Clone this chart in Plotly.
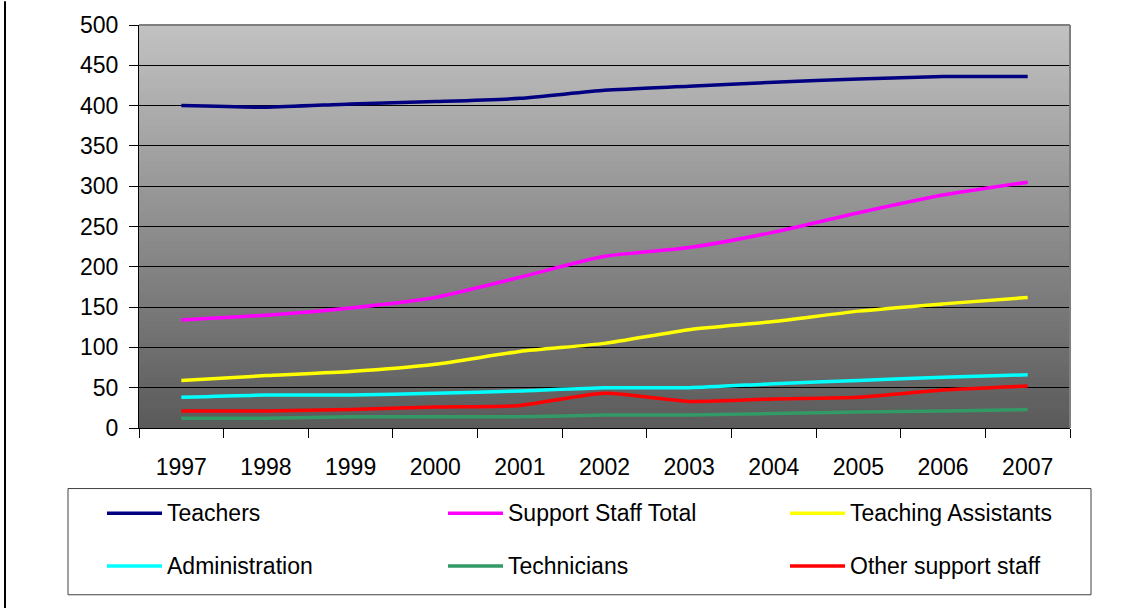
import plotly.graph_objects as go

years = ["1997", "1998", "1999", "2000", "2001", "2002", "2003", "2004", "2005", "2006", "2007"]
teachers = [400, 398, 402, 405, 409, 419, 424, 429, 433, 436, 436]
support_total = [134, 140, 149, 162, 187, 213, 224, 243, 267, 289, 305]
teaching_assistants = [59, 65, 70, 79, 95, 105, 122, 132, 145, 154, 162]
administration = [38, 41, 41, 43, 46, 50, 50, 55, 59, 63, 66]
technicians = [12, 12, 14, 14, 14, 16, 16, 18, 20, 21, 23]
other_support = [21, 21, 23, 26, 28, 43, 33, 36, 38, 47, 52]

series_names = ["Teachers", "Support Staff Total", "Teaching Assistants",
                "Administration", "Technicians", "Other support staff"]
series_values = [teachers, support_total, teaching_assistants,
                 administration, technicians, other_support]
series_colors = ["#000080", "#FF00FF", "#FFFF00", "#00FFFF", "#339966", "#FF0000"]

FONT = "Liberation Sans, Arial, sans-serif"
W, H = 1137, 608
L, R, T, B = 139, 1070, 22, 428


def px(xp):
    return (xp - L) / (R - L)


def py(yp):
    return (B - yp) / (B - T)


fig = go.Figure()
for name, vals, col in zip(series_names, series_values, series_colors):
    fig.add_trace(go.Scatter(x=years, y=vals, mode="lines", name=name,
                             line=dict(color=col, width=3.5, shape="spline", smoothing=0.6),
                             showlegend=False, hoverinfo="x+y+name"))

shapes = []
# gradient background
n = 80
top_c, bot_c = 194, 90
for i in range(n):
    f0, f1 = i / n, (i + 1) / n
    c = round(bot_c + (top_c - bot_c) * (f0 + f1) / 2)
    shapes.append(dict(type="rect", xref="x domain", yref="y domain", x0=0, x1=1,
                       y0=f0, y1=f1 + 0.002, line=dict(width=0),
                       fillcolor=f"rgb({c},{c},{c})", layer="below"))
# plot border top and right
shapes.append(dict(type="line", xref="paper", yref="paper", x0=0, x1=1, y0=1, y1=1,
                   line=dict(color="#7f7f7f", width=2), layer="above"))
shapes.append(dict(type="line", xref="paper", yref="paper", x0=1, x1=1, y0=0, y1=1,
                   line=dict(color="#7f7f7f", width=2), layer="above"))
# outer chart border at left
shapes.append(dict(type="line", xref="paper", yref="paper", x0=px(5), x1=px(5),
                   y0=py(-2), y1=py(610), line=dict(color="black", width=2)))
# legend box
shapes.append(dict(type="rect", xref="paper", yref="paper", x0=px(68), x1=px(1091),
                   y0=py(596), y1=py(489), line=dict(color="#404040", width=1),
                   fillcolor="white"))

annotations = []
col_x = [107, 448, 790]
row_y = [514, 567]
for i, (name, col) in enumerate(zip(series_names, series_colors)):
    cx = col_x[i % 3]
    ry = row_y[i // 3]
    shapes.append(dict(type="line", xref="paper", yref="paper", x0=px(cx), x1=px(cx + 55),
                       y0=py(ry), y1=py(ry), line=dict(color=col, width=3.5)))
    annotations.append(dict(xref="paper", yref="paper", x=px(cx + 58), y=py(ry),
                            text=name, showarrow=False, xanchor="left", yanchor="middle",
                            font=dict(family=FONT, size=23, color="black")))

fig.update_layout(
    width=W, height=H,
    margin=dict(l=L, r=W - R, t=T, b=H - B, pad=0),
    paper_bgcolor="white", plot_bgcolor="rgba(0,0,0,0)",
    shapes=shapes, annotations=annotations,
    showlegend=False,
    font=dict(family=FONT, size=23, color="black"),
)
fig.update_xaxes(type="category", range=[-0.5, 10.5], showgrid=False,
                 showline=True, linecolor="black", linewidth=1,
                 ticks="outside", ticklen=9, tickcolor="black", tickson="boundaries",
                 ticklabelstandoff=18, tickfont=dict(family=FONT, size=23, color="black"),
                 zeroline=False)
fig.update_yaxes(range=[0, 500], dtick=50, showgrid=True, gridcolor="black", gridwidth=1,
                 showline=True, linecolor="black", linewidth=1,
                 ticks="outside", ticklen=9, tickcolor="black",
                 ticklabelstandoff=6, tickfont=dict(family=FONT, size=23, color="black"),
                 zeroline=False)

fig.write_html("out.html")
